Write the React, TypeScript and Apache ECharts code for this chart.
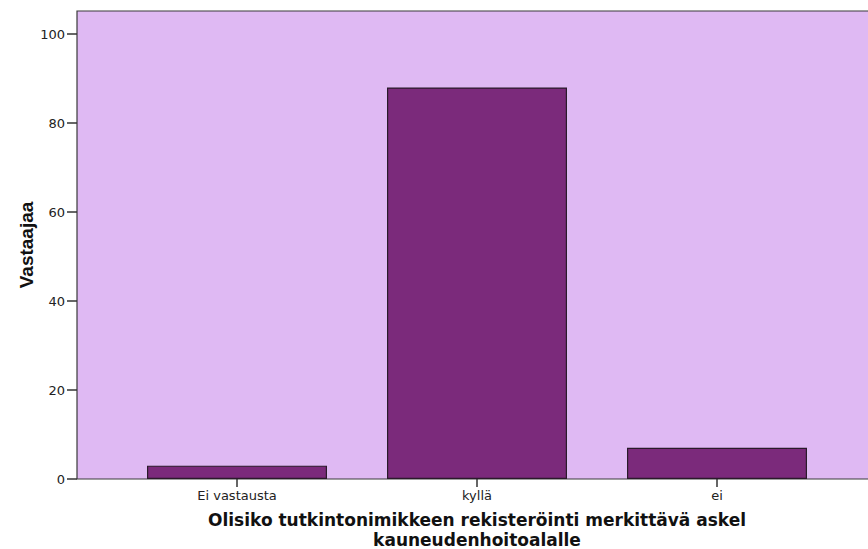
import React, { useEffect, useRef } from "react";
import * as echarts from "echarts";

const categories = ["Ei vastausta", "kyllä", "ei"];
const counts = [3, 88, 7];
const yTicks = [0, 20, 40, 60, 80, 100];
const xTitle = "Olisiko tutkintonimikkeen rekisteröinti merkittävä askel\nkauneudenhoitoalalle";
const yTitle = "Vastaajaa";

export default function App() {
  const ref = useRef<HTMLDivElement>(null);
  useEffect(() => {
    const chart = echarts.init(ref.current!, null, { renderer: "svg" });
    chart.setOption({
      animation: false,
      backgroundColor: "#ffffff",
      graphic: [
        {
          type: "rect",
          z: -10,
          silent: true,
          shape: { x: 77, y: 11, width: 820, height: 468 },
          style: { fill: "#DFB9F3", stroke: "#3a3a3a", lineWidth: 1.2 },
        },
        {
          type: "text",
          rotation: Math.PI / 2,
          x: 26,
          y: 245,
          style: {
            text: yTitle,
            fontFamily: "Liberation Sans Narrow, Liberation Sans, Arial",
            fontWeight: "bold",
            fontSize: 19,
            fill: "#111",
            textAlign: "center",
            textVerticalAlign: "middle",
          },
        },
      ],
      grid: { left: 117, width: 720, top: 11, height: 468, containLabel: false, outerBoundsMode: "none" },
      xAxis: {
        type: "category",
        data: categories,
        axisLine: { show: false },
        axisTick: { show: true, alignWithLabel: true, length: 8, lineStyle: { color: "#333", width: 1.5 } },
        axisLabel: { margin: 10, fontSize: 13, color: "#222", fontFamily: "DejaVu Sans, Liberation Sans" },
        name: xTitle,
        nameLocation: "middle",
        nameGap: 31,
        nameTextStyle: {
          fontFamily: "DejaVu Sans, Verdana",
          fontWeight: "bold",
          fontSize: 17,
          color: "#111",
          lineHeight: 20,
        },
      },
      yAxis: {
        type: "value",
        min: 0,
        max: 105.2,
        interval: 20,
        offset: 40,
        splitLine: { show: false },
        axisLine: { show: false },
        axisTick: { show: true, length: 10, customValues: yTicks, lineStyle: { color: "#333", width: 1.5 } },
        axisLabel: {
          customValues: yTicks,
          margin: 12,
          fontSize: 13,
          color: "#222",
          fontFamily: "DejaVu Sans, Liberation Sans",
        },
      },
      series: [
        {
          type: "bar",
          data: counts,
          barCategoryGap: "25%",
          itemStyle: { color: "#7B2A7B", borderColor: "#2a1a2a", borderWidth: 1.2 },
        },
      ],
    });
    return () => chart.dispose();
  }, []);
  return <div ref={ref} style={{ position: "fixed", left: 0, top: 0, width: 868, height: 549 }} />;
}
